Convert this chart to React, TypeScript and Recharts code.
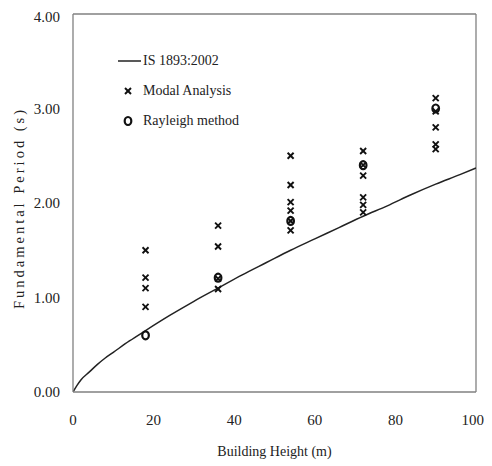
import React from 'react';
import { ComposedChart, Line, Scatter, XAxis, YAxis, ReferenceLine } from 'recharts';

const xTicks = [0, 20, 40, 60, 80, 100];
const yTicks = [0, 1, 2, 3, 4];

// IS 1893:2002 curve
const codeHeights = [0, 1, 2, 4, 6, 8, 10, 14, 18, 24, 30, 36, 42, 48, 54, 60, 66, 72, 78, 84, 90, 96, 100];
const codePeriods = [0, 0.07, 0.13, 0.21, 0.29, 0.36, 0.42, 0.54, 0.65, 0.81, 0.96, 1.1, 1.24, 1.37, 1.5, 1.62, 1.74, 1.86, 1.97, 2.09, 2.2, 2.3, 2.37];

const buildingHeights = [18, 36, 54, 72, 90];
const modal18 = [1.5, 1.21, 1.1, 0.9];
const modal36 = [1.76, 1.54, 1.2, 1.09];
const modal54 = [2.5, 2.19, 2.01, 1.92, 1.81, 1.71];
const modal72 = [2.55, 2.4, 2.29, 2.06, 1.98, 1.9];
const modal90 = [3.11, 2.97, 2.8, 2.62, 2.57];
const rayleigh = [0.6, 1.21, 1.81, 2.4, 3.0];

const codeData = codeHeights.map((h, i) => ({ x: h, y: codePeriods[i] }));
const modalGroups = [modal18, modal36, modal54, modal72, modal90];
const modalData = modalGroups.flatMap((vals, i) => vals.map((v) => ({ x: buildingHeights[i], y: v })));
const rayleighData = rayleigh.map((v, i) => ({ x: buildingHeights[i], y: v }));

const FONT = '"Liberation Serif", "Times New Roman", serif';

const XMark = (props: any) => {
  const { cx, cy } = props;
  if (cx == null || cy == null) return null;
  const s = 3;
  return (
    <g stroke="#111" strokeWidth={1.9}>
      <line x1={cx - s} y1={cy - s} x2={cx + s} y2={cy + s} />
      <line x1={cx - s} y1={cy + s} x2={cx + s} y2={cy - s} />
    </g>
  );
};

const OMark = (props: any) => {
  const { cx, cy } = props;
  if (cx == null || cy == null) return null;
  return <ellipse cx={cx} cy={cy} rx={3.3} ry={4} fill="none" stroke="#111" strokeWidth={2.2} />;
};

const YTitle = (props: any) => {
  const vb = props.viewBox || { x: 0, y: 0, width: 0, height: 0 };
  const cx = 11;
  const cy = vb.y + vb.height / 2 + 5;
  return (
    <text
      x={cx}
      y={cy}
      transform={`rotate(-90, ${cx}, ${cy})`}
      textAnchor="middle"
      dominantBaseline="central"
      fontFamily={FONT}
      fontSize={14.5}
      letterSpacing={3}
      fill="#222"
    >
      Fundamental Period (s)
    </text>
  );
};

const legendRow: React.CSSProperties = {
  height: 30,
  display: 'flex',
  alignItems: 'center',
  fontFamily: FONT,
  fontSize: 14,
  color: '#222',
  whiteSpace: 'nowrap',
};

export default function App() {
  return (
    <div style={{ position: 'relative', width: 476, height: 458 }}>
      <style>{`html,body{overflow:hidden} .recharts-surface{overflow:visible}`}</style>
      <ComposedChart width={476} height={450} margin={{ top: 6, right: 8, bottom: 0, left: 0 }}>
        <XAxis
          type="number"
          dataKey="x"
          domain={[0, 100]}
          ticks={xTicks}
          allowDataOverflow
          tickLine={false}
          tickSize={0}
          tickMargin={22}
          height={66}
          axisLine={{ stroke: '#808080', strokeWidth: 1.3 }}
          tick={{ fontFamily: FONT, fontSize: 15, fill: '#222' }}
        />
        <YAxis
          type="number"
          dataKey="y"
          domain={[0, 4]}
          ticks={yTicks}
          allowDataOverflow
          tickLine={false}
          tickSize={0}
          tickMargin={13}
          width={65}
          axisLine={{ stroke: '#808080', strokeWidth: 1.3 }}
          tick={{ fontFamily: FONT, fontSize: 15, fill: '#222' }}
          tickFormatter={(v: number) => v.toFixed(2)}
          label={<YTitle />}
        />
        <ReferenceLine y={4} stroke="#808080" strokeWidth={1.3} />
        <ReferenceLine x={100} stroke="#808080" strokeWidth={1.3} />
        <Line
          data={codeData}
          dataKey="y"
          type="monotone"
          stroke="#222"
          strokeWidth={1.5}
          dot={false}
          activeDot={false}
          isAnimationActive={false}
        />
        <Scatter data={modalData} dataKey="y" shape={<XMark />} isAnimationActive={false} />
        <Scatter data={rayleighData} dataKey="y" shape={<OMark />} isAnimationActive={false} />
      </ComposedChart>
      <div
        style={{
          position: 'absolute',
          left: 65,
          width: 403,
          top: 436,
          textAlign: 'center',
          fontFamily: FONT,
          fontSize: 14,
          lineHeight: '16px',
          color: '#222',
          whiteSpace: 'nowrap',
        }}
      >
        Building Height (m)
      </div>
      <div style={{ position: 'absolute', left: 110, top: 38 }}>
        <div style={legendRow}>
          <svg width={25} height={30}>
            <line x1={0} y1={15} x2={23} y2={15} stroke="#222" strokeWidth={1.5} />
          </svg>
          <span>IS 1893:2002</span>
        </div>
        <div style={legendRow}>
          <svg width={25} height={30}>
            <XMark cx={10} cy={15} />
          </svg>
          <span>Modal Analysis</span>
        </div>
        <div style={legendRow}>
          <svg width={25} height={30}>
            <OMark cx={10} cy={15} />
          </svg>
          <span>Rayleigh method</span>
        </div>
      </div>
    </div>
  );
}
